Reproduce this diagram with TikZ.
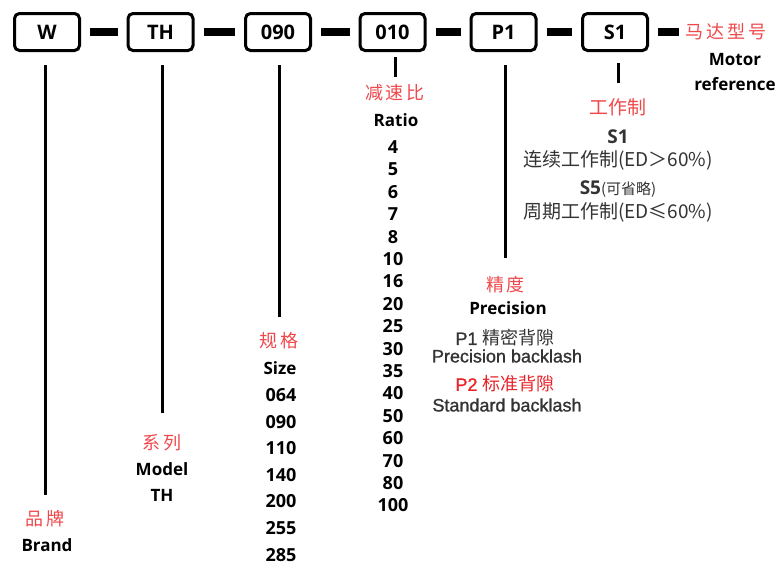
\documentclass[tikz,border=0pt]{standalone}
\usepackage{fontspec}
\setmainfont{Open Sans}
\newfontfamily\cjk{Noto Sans CJK SC}
\newfontfamily\arl[FakeBold=1.2]{Liberation Sans}
\definecolor{redc}{HTML}{F0474A}
\definecolor{redp}{HTML}{E8242A}
\definecolor{grayt}{HTML}{333333}
\begin{document}
\begin{tikzpicture}[x=1pt,y=-1pt,
  codebox/.style={draw=black,line width=3pt,rounded corners=5pt,minimum width=65pt,minimum height=37pt,inner sep=0pt,font=\bfseries\fontsize{20}{22}\selectfont},
  dashline/.style={line width=8pt,shorten <=9pt,shorten >=9pt},
  vline/.style={line width=3pt},
  redlab/.style={text=redc,font=\cjk\fontsize{18}{20}\selectfont,inner sep=0pt},
  bold/.style={font=\bfseries\fontsize{17}{20}\selectfont,inner sep=0pt},
  num/.style={font=\bfseries\fontsize{18}{20}\selectfont,inner sep=0pt},
  grayl/.style={text=grayt,font=\cjk\fontsize{19}{21}\selectfont,inner sep=0pt},
  arlab/.style={text=grayt,font=\arl\fontsize{18}{20}\selectfont,inner sep=0pt}]
\useasboundingbox (0,0) rectangle (780,565);
% boxes
\node[codebox] (bW) at (47,32) {W};
\node[codebox] (bTH) at (160.5,32) {TH};
\node[codebox] (bS) at (278,32) {090};
\node[codebox] (bR) at (392.5,32) {010};
\node[codebox] (bP) at (503.5,32) {P1};
\node[codebox] (bD) at (615,32) {S1};
\node[redlab,anchor=west] (mot) at (685,32) {马\hspace{3pt}达\hspace{3pt}型\hspace{3pt}号};
% dashes
\draw[dashline] (bW) -- (bTH);
\draw[dashline] (bTH) -- (bS);
\draw[dashline] (bS) -- (bR);
\draw[dashline] (bR) -- (bP);
\draw[dashline] (bP) -- (bD);
\draw[dashline,shorten >=6pt] (bD.east) -- (mot.west);
% motor reference
\node[bold] (mot1) at (735,60) {Motor};
\node[bold] (mot2) at (735,84) {reference};
% vertical lines
\coordinate (eW) at (45,495);
\coordinate (eTH) at (162,413);
\coordinate (eS) at (279,317);
\coordinate (eR) at (395,77);
\coordinate (eP) at (505,258);
\coordinate (eD) at (618,83);
\draw[vline] (eW |- 0,65) -- (eW);
\draw[vline] (eTH |- 0,65) -- (eTH);
\draw[vline] (eS |- 0,65) -- (eS);
\draw[vline] (eR |- 0,57) -- (eR);
\draw[vline] (eP |- 0,65) -- (eP);
\draw[vline] (eD |- 0,63) -- (eD);
% brand
\node[redlab] (brand1) at (45,519) {品\hspace{3pt}牌};
\node[bold] (brand2) at (47,545) {Brand};
% model
\node[redlab] (mod1) at (162,443) {系\hspace{3pt}列};
\node[bold] (mod2) at (162,469) {Model};
\node[bold] (mod3) at (162,495) {TH};
% size
\node[redlab] (sz1) at (279,341) {规\hspace{3pt}格};
\node[bold] (sz2) at (280,368) {Size};
\foreach \v [count=\i] in {064,090,110,140,200,255,285}
  \node[num] (s\i) at (281,{395+26.6*(\i-1)}) {\v};
% ratio
\node[redlab] (ra1) at (395,93) {减\hspace{3pt}速\hspace{3pt}比};
\node[bold] (ra2) at (396,120) {Ratio};
\foreach \v [count=\i] in {4,5,6,7,8,10,16,20,25,30,35,40,50,60,70,80,100}
  \node[num] (r\i) at (393,{147+22.4*(\i-1)}) {\v};
% precision
\node[redlab] (pr1) at (505,285) {精\hspace{2pt}度};
\node[bold] (pr2) at (508,308) {Precision};
\node[arlab] (pr3) at (505,338) {P1 {\cjk 精密背隙}};
\node[arlab] (pr4) at (507,356) {Precision backlash};
\node[arlab,text=redp] (pr5) at (505,384) {P2 {\cjk 标准背隙}};
\node[arlab] (pr6) at (507,405) {Standard backlash};
% duty
\node[redlab,font=\cjk\fontsize{19}{21}\selectfont] (du1) at (618,107) {工作制};
\node[bold,text=grayt,font=\bfseries\fontsize{19}{21}\selectfont] (du2) at (618,137) {S1};
\node[grayl] (du3) at (618,160) {连续工作制(ED＞60\%)};
\node[grayl] (du4) at (618,189) {{\bfseries\rmfamily\fontsize{19}{21}\selectfont S5}{\fontsize{15}{17}\selectfont(可省略)}};
\node[grayl] (du5) at (618,212) {周期工作制(ED≤60\%)};
\end{tikzpicture}
\end{document}
